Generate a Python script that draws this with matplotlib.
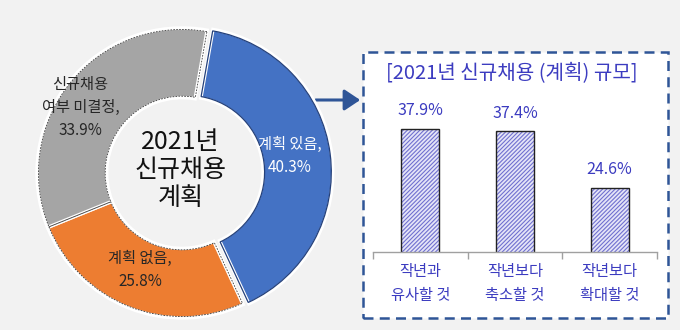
import matplotlib
matplotlib.use("Agg")
import matplotlib.pyplot as plt
from matplotlib.patches import Rectangle, FancyArrowPatch

plt.rcParams['font.family'] = ['Noto Sans CJK KR', 'DejaVu Sans']

# donut data
pie_labels = ["계획 있음,\n40.3%", "계획 없음,\n25.8%", "신규채용\n여부 미결정,\n33.9%"]
pie_values = [40.3, 25.8, 33.9]
pie_colors = ["#4472C4", "#ED7D31", "#A5A5A5"]
center_text = "2021년\n신규채용\n계획"

# bar data
bar_cats = ["작년과\n유사할 것", "작년보다\n축소할 것", "작년보다\n확대할 것"]
bar_values = [37.9, 37.4, 24.6]
bar_title = "[2021년 신규채용 (계획) 규모]"

BG = "#F2F2F2"
PURPLE = "#3C3CC0"
NAVY = "#2F5597"

W, H = 680, 330
fig = plt.figure(figsize=(6.8, 3.3), dpi=100, facecolor=BG)


def px_box(x0, y0, x1, y1):
    # pixel box (top-left origin) -> figure fraction rect
    return [x0 / W, 1 - y1 / H, (x1 - x0) / W, (y1 - y0) / H]


# ---- dashed box (behind everything) ----
box = Rectangle((363 / W, 1 - 318 / H), (668 - 363) / W, (318 - 52) / H,
                transform=fig.transFigure, facecolor="white", edgecolor=NAVY,
                linewidth=1.8, linestyle=(0, (4, 2.5)), zorder=-5)
fig.patches.append(box)

# arrow from donut to box
arr = FancyArrowPatch((313 / W, 1 - 100 / H), (363 / W, 1 - 100 / H),
                      transform=fig.transFigure,
                      arrowstyle="-|>,head_length=6,head_width=4",
                      color=NAVY, linewidth=2.2, mutation_scale=1.6, zorder=-4)
fig.patches.append(arr)

# ---- donut ----
R = 145
cx, cy = 182, 173
lim = 1.08
ax_p = fig.add_axes(px_box(cx - R * lim, cy - R * lim, cx + R * lim, cy + R * lim))

explode = [0.04, 0, 0]
ax_p.pie(pie_values, colors=pie_colors, startangle=80, counterclock=False,
         explode=explode, radius=1.0,
         wedgeprops=dict(width=0.48, edgecolor="white", linewidth=2.5))
outl, _ = ax_p.pie(pie_values, colors=pie_colors, startangle=80, counterclock=False,
                   explode=explode, radius=0.99,
                   wedgeprops=dict(width=0.46, fill=False, edgecolor="#3a3a3a",
                                   linewidth=0.6))
outl[0].set_edgecolor("#24407a")
outl[0].set_linewidth(0.9)
for w in outl[1:]:
    w.set_linestyle((0, (2, 1.5)))
ax_p.set_xlim(-lim, lim)
ax_p.set_ylim(-lim, lim)
ax_p.set_aspect("equal")
ax_p.axis("off")

ax_p.text(0.745, 0.12, pie_labels[0], ha="center", va="center", fontsize=11,
          color="white", linespacing=1.45)
ax_p.text(-0.29, -0.67, pie_labels[1], ha="center", va="center", fontsize=11,
          color="#262626", linespacing=1.45)
ax_p.text(-0.70, 0.45, pie_labels[2], ha="center", va="center", fontsize=11,
          color="#262626", linespacing=1.45)
ax_p.text(-0.01, 0.02, center_text, ha="center", va="center", fontsize=18,
          color="#111111", linespacing=1.1)

fig.text(512 / W, 1 - 74 / H, bar_title, ha="center", va="center",
         fontsize=14.5, color=PURPLE)

# ---- bars ----
ax_b = fig.add_axes(px_box(373, 100, 657, 252))
ax_b.set_facecolor("none")
x = range(len(bar_values))
plt.rcParams['hatch.linewidth'] = 0.8
ax_b.bar(x, bar_values, width=0.4, color="#e4e4f7", edgecolor="#7070d0",
         hatch="////////", linewidth=0)
ax_b.bar(x, bar_values, width=0.4, fill=False, edgecolor="#222222", linewidth=1.0)
for xi, v in zip(x, bar_values):
    ax_b.text(xi, v + 2.2, f"{v}%", ha="center", va="bottom", fontsize=11.5,
              color=PURPLE)
ax_b.set_xlim(-0.5, 2.5)
ax_b.set_ylim(10.2, 44.5)
for s in ["top", "left", "right"]:
    ax_b.spines[s].set_visible(False)
ax_b.spines["bottom"].set_color("#a0a0a0")
ax_b.spines["bottom"].set_linewidth(1.0)
ax_b.set_yticks([])
ax_b.set_xticks([-0.5, 0.5, 1.5, 2.5])
ax_b.set_xticklabels([])
ax_b.tick_params(axis="x", length=5, color="#a0a0a0", width=1.0)
ax_b.set_xticks(list(x), minor=True)
ax_b.set_xticklabels(bar_cats, minor=True, fontsize=11, color=PURPLE,
                     linespacing=1.5)
ax_b.tick_params(axis="x", which="minor", length=0, pad=8)

fig.savefig("out.png", dpi=100, facecolor=BG)
